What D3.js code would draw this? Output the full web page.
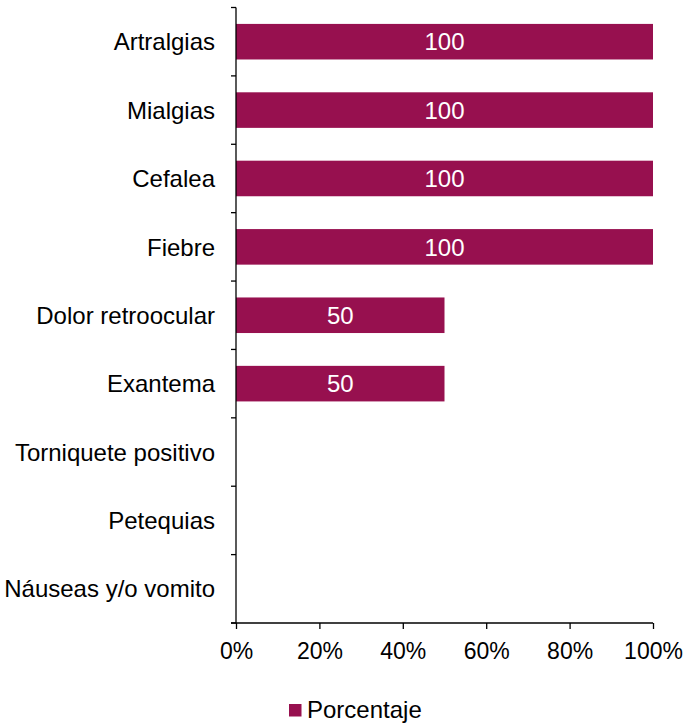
<!DOCTYPE html>
<html>
<head>
<meta charset="utf-8">
<script src="https://cdn.jsdelivr.net/npm/d3@7"></script>
<style>
  body { margin: 0; background: #fff; }
  svg text { font-family: Arial, "Liberation Sans", sans-serif; }
</style>
</head>
<body>
<svg id="chart" width="686" height="724"></svg>
<script>
// sintomas y porcentajes
var categories = ["Artralgias", "Mialgias", "Cefalea", "Fiebre", "Dolor retroocular",
                  "Exantema", "Torniquete positivo", "Petequias", "Náuseas y/o vomito"];
var values = [100, 100, 100, 100, 50, 50, 0, 0, 0];
var xTicks = [0, 20, 40, 60, 80, 100];
var seriesName = "Porcentaje";

var barColor = "#97104F";
var fontSize = 23;

var svg = d3.select("#chart"),
    margin = {top: 7.5, left: 236, right: 33, bottom: 101},
    width = +svg.attr("width") - margin.left - margin.right,
    height = +svg.attr("height") - margin.top - margin.bottom,
    g = svg.append("g").attr("transform", "translate(" + margin.left + "," + margin.top + ")");

var x = d3.scaleLinear().domain([0, 100]).range([0, width]);
var y = d3.scaleBand().domain(categories).range([0, height]).paddingInner(0.48).paddingOuter(0.24);

// bars
g.selectAll(".bar")
  .data(categories)
  .enter().append("rect")
    .attr("class", "bar")
    .attr("x", 0)
    .attr("y", function(d) { return y(d); })
    .attr("width", function(d, i) { return x(values[i]); })
    .attr("height", y.bandwidth())
    .attr("fill", barColor);

// labels inside bars
g.selectAll(".lbl")
  .data(categories.filter(function(d, i) { return values[i] > 0; }))
  .enter().append("text")
    .attr("class", "lbl")
    .attr("x", function(d) { return x(values[categories.indexOf(d)]) / 2; })
    .attr("y", function(d) { return y(d) + y.bandwidth() / 2; })
    .attr("dy", "0.36em")
    .attr("text-anchor", "middle")
    .attr("font-size", 24)
    .attr("fill", "#fff")
    .text(function(d) { return values[categories.indexOf(d)]; });

// y axis: ticks at band boundaries
var bandStep = height / categories.length;
var yAxisG = g.append("g");
yAxisG.append("line")
  .attr("x1", 0).attr("x2", 0).attr("y1", 0).attr("y2", height)
  .attr("stroke", "#000").attr("stroke-width", 1.3);
yAxisG.selectAll(".ytick")
  .data(d3.range(categories.length + 1))
  .enter().append("line")
    .attr("x1", -5).attr("x2", 0)
    .attr("y1", function(i) { return i * bandStep; })
    .attr("y2", function(i) { return i * bandStep; })
    .attr("stroke", "#000").attr("stroke-width", 1.3);
yAxisG.selectAll(".ylab")
  .data(categories)
  .enter().append("text")
    .attr("x", -21)
    .attr("y", function(d) { return y(d) + y.bandwidth() / 2; })
    .attr("dy", "0.36em")
    .attr("text-anchor", "end")
    .attr("font-size", 24)
    .attr("fill", "#000")
    .text(function(d) { return d; });

// x axis
var xAxis = g.append("g")
  .attr("transform", "translate(0," + height + ")")
  .call(d3.axisBottom(x).tickValues(xTicks).tickSize(6).tickPadding(14)
          .tickFormat(function(d) { return d + "%"; }));
xAxis.attr("font-family", null);
xAxis.select(".domain").attr("stroke", "#000").attr("stroke-width", 1.3)
  .attr("d", "M-5,0H" + width);
xAxis.selectAll(".tick line").attr("stroke", "#000").attr("stroke-width", 1.3);
xAxis.selectAll(".tick text")
  .attr("font-size", fontSize)
  .attr("fill", "#000");

// legend
var legend = svg.append("g").attr("transform", "translate(289,704)");
legend.append("rect").attr("width", 12.5).attr("height", 12.5).attr("fill", barColor);
legend.append("text")
  .attr("x", 18).attr("y", 13.5)
  .attr("font-size", 24)
  .attr("fill", "#000")
  .text(seriesName);
</script>
</body>
</html>
